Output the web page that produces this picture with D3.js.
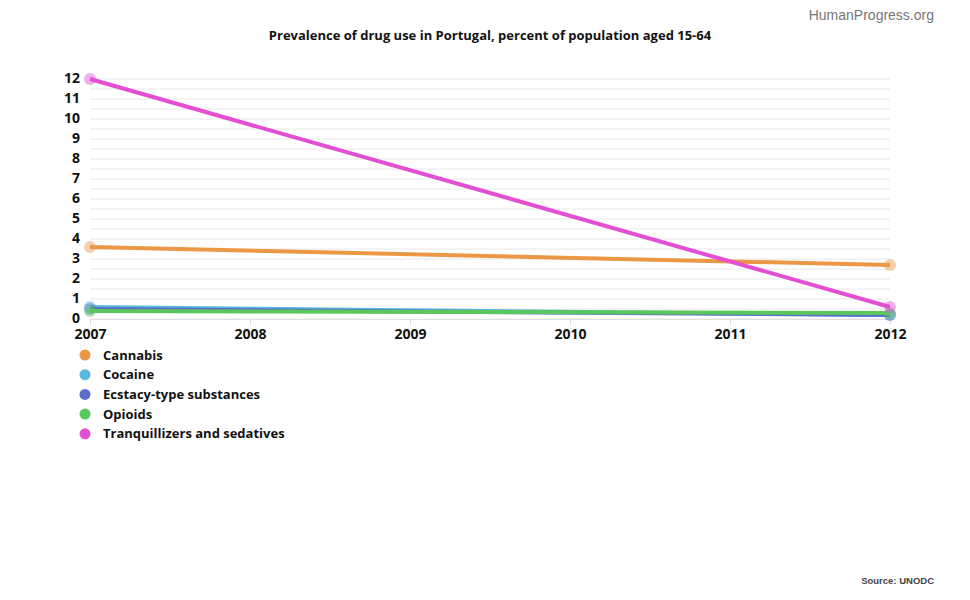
<!DOCTYPE html>
<html><head><meta charset="utf-8">
<script src="https://d3js.org/d3.v7.min.js"></script>
<style>body{margin:0;background:#fff}svg{display:block}</style>
</head><body>
<svg id="c" width="970" height="600"></svg>
<script>
const years = [2007, 2012];
const seriesNames = ["Cannabis","Cocaine","Ecstacy-type substances","Opioids","Tranquillizers and sedatives"];
const cannabis = [3.6, 2.7];
const cocaine = [0.6, 0.2];
const ecstasy = [0.5, 0.2];
const opioids = [0.4, 0.3];
const tranquillizers = [12, 0.6];
const xTicks = [2007, 2008, 2009, 2010, 2011, 2012];
const yTicks = [0,1,2,3,4,5,6,7,8,9,10,11,12];
const colors = ["#ec9746","#56b9dd","#5b6dcc","#5bc65b","#e24fd2"];
const values = [cannabis, cocaine, ecstasy, opioids, tranquillizers];

const svg = d3.select("#c");
const font = "'Open Sans', sans-serif";
const x = d3.scaleLinear().domain([2007, 2012]).range([90, 890]);
const y = d3.scaleLinear().domain([0, 12]).range([319, 79]);

// gridlines every 0.5
const grid = d3.range(0, 12.01, 0.5);
svg.append("g").selectAll("line").data(grid).join("line")
  .attr("x1", x(2007)).attr("x2", x(2012))
  .attr("y1", d => y(d)).attr("y2", d => y(d))
  .attr("stroke", "#e8e8e8").attr("stroke-width", 1);

// x axis
const xAxis = svg.append("g").attr("transform", `translate(0,${y(0)})`)
  .call(d3.axisBottom(x).tickValues(xTicks).tickFormat(d3.format("d")).tickSize(6).tickPadding(4));
xAxis.select(".domain").attr("stroke", "#e0e0e0");
xAxis.selectAll(".tick line").attr("stroke", "#e0e0e0");
xAxis.selectAll("text").attr("font-family", font).attr("font-weight", "bold")
  .attr("font-size", 14).attr("fill", "#111");

// y axis
const yAxis = svg.append("g").attr("transform", `translate(${x(2007)},0)`)
  .call(d3.axisLeft(y).tickValues(yTicks).tickSize(0).tickPadding(10));
yAxis.select(".domain").remove();
yAxis.selectAll("text").attr("font-family", font).attr("font-weight", "bold")
  .attr("font-size", 14).attr("fill", "#111").attr("dy", "0.28em");

const line = d3.line().x((d, i) => x(years[i])).y(d => y(d));
values.forEach((vals, k) => {
  const g = svg.append("g");
  g.append("path").datum(vals).attr("d", line).attr("fill", "none")
    .attr("stroke", colors[k]).attr("stroke-width", 4);
  g.selectAll("circle").data(vals).join("circle")
    .attr("cx", (d, i) => x(years[i])).attr("cy", d => y(d)).attr("r", 6)
    .attr("fill", colors[k]).attr("fill-opacity", 0.45);
});

// legend
const leg = svg.append("g");
seriesNames.forEach((n, i) => {
  leg.append("circle").attr("cx", 85).attr("cy", 355 + i * 19.7).attr("r", 5.5).attr("fill", colors[i]);
  leg.append("text").attr("x", 103).attr("y", 355 + i * 19.7).attr("dy", "0.35em")
    .attr("font-family", font).attr("font-weight", "bold").attr("font-size", 13)
    .attr("fill", "#111").text(n);
});

svg.append("text").attr("x", 490).attr("y", 40).attr("text-anchor", "middle")
  .attr("font-family", font).attr("font-weight", "bold").attr("font-size", 13)
  .attr("fill", "#111").text("Prevalence of drug use in Portugal, percent of population aged 15-64");

svg.append("text").attr("x", 934).attr("y", 20).attr("text-anchor", "end")
  .attr("font-family", "'Liberation Sans', Arial, sans-serif").attr("font-size", 14)
  .attr("fill", "#777").text("HumanProgress.org");

svg.append("text").attr("x", 934).attr("y", 584).attr("text-anchor", "end")
  .attr("font-family", "'Liberation Sans', Arial, sans-serif").attr("font-weight", "bold").attr("font-size", 9.5)
  .attr("fill", "#444").text("Source: UNODC");
</script>
</body></html>
